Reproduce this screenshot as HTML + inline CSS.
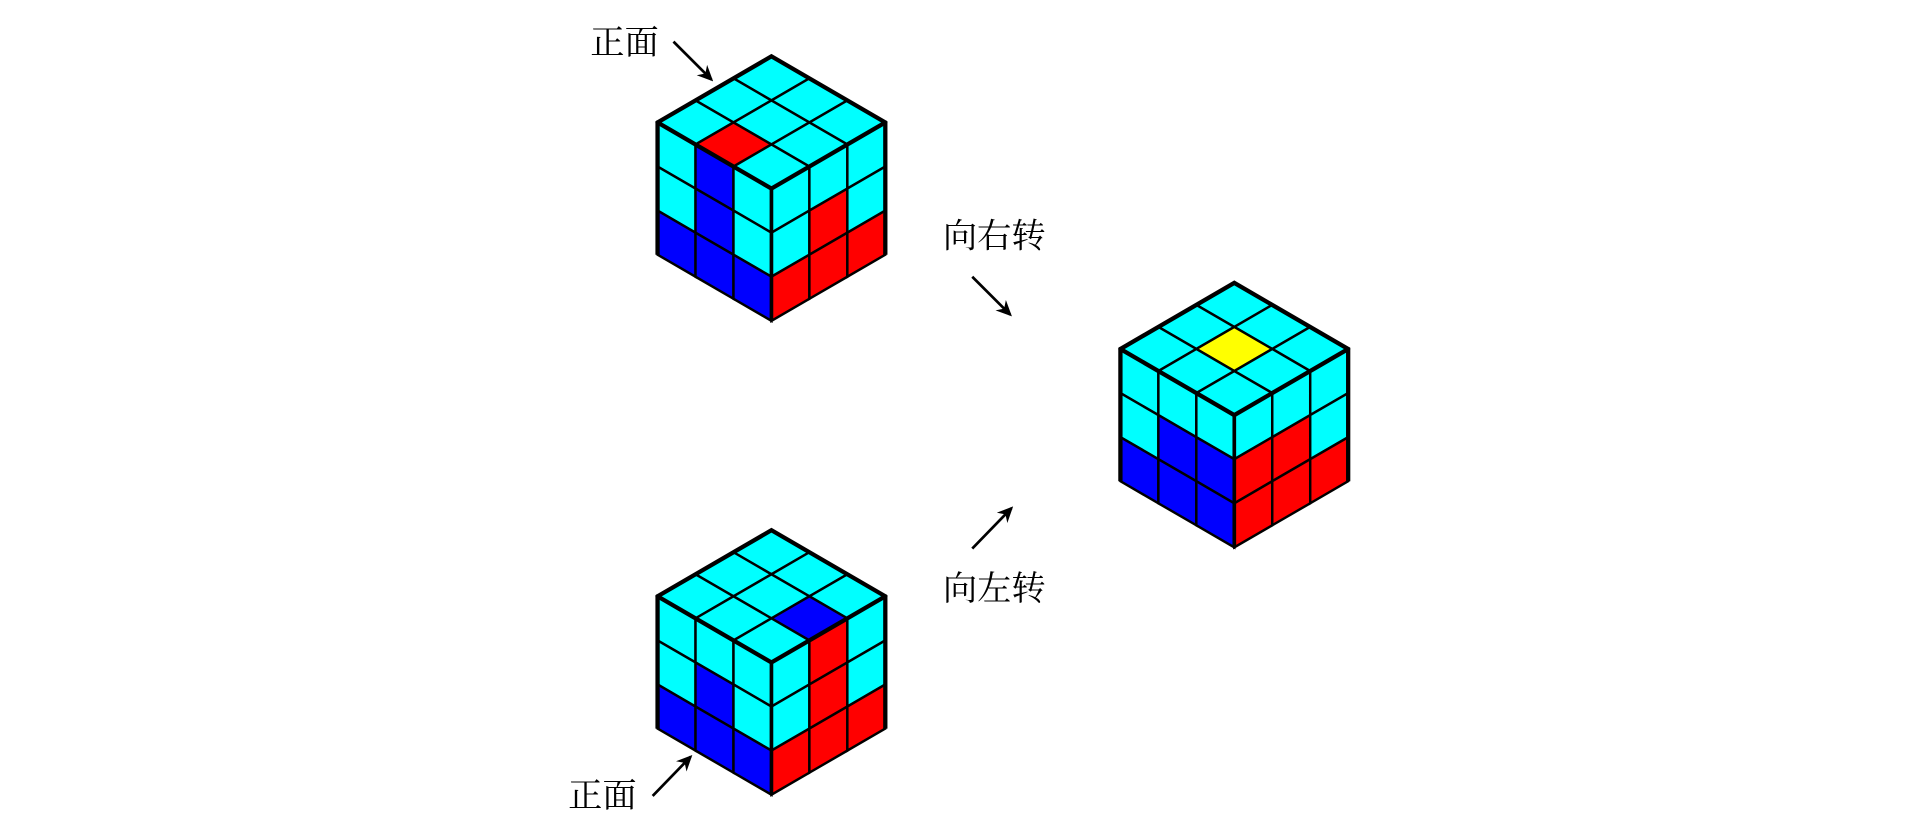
<!DOCTYPE html>
<html><head><meta charset="utf-8"><style>
html,body{margin:0;padding:0;background:#fff;width:1920px;height:833px;overflow:hidden}
svg{display:block}
text{font-family:"Liberation Serif","Noto Serif CJK SC",serif;font-size:28px;fill:#000}
</style></head><body>
<svg id="s" width="1920" height="833" xmlns="http://www.w3.org/2000/svg">
<defs><marker id="ah" markerWidth="13" markerHeight="12" refX="11" refY="6" orient="auto" markerUnits="userSpaceOnUse"><path d="M0,0 L13,6 L0,12 L4,6 Z" fill="#000"/></marker></defs>
<g transform="scale(1.2245)">
<text x="482" y="44">正面</text>
<line x1="550" y1="34" x2="581" y2="65" stroke="#000" stroke-width="2.2" marker-end="url(#ah)"/>
<text x="770" y="202">向右转</text>
<line x1="794" y1="226" x2="825" y2="257" stroke="#000" stroke-width="2.2" marker-end="url(#ah)"/>
<text x="770" y="490">向左转</text>
<line x1="794" y1="448" x2="826" y2="415" stroke="#000" stroke-width="2.2" marker-end="url(#ah)"/>
<text x="464" y="659">正面</text>
<line x1="533" y1="650" x2="564" y2="618" stroke="#000" stroke-width="2.2" marker-end="url(#ah)"/>
<g id="cubes"></g>
</g>
</svg>
<script>
var C='#00ffff',B='#0000ff',R='#ff0000',Y='#ffff00';
function cube(tx,ty,top,left,right){
 var dx=31,dy=18,h=36,out='';
 function P(a){return a.map(function(p){return p[0].toFixed(1)+','+p[1].toFixed(1)}).join(' ')}
 function tp(i,j){return [tx+i*dx-j*dx,ty+(i+j)*dy]}
 for(var i=0;i<3;i++)for(var j=0;j<3;j++){
  out+='<polygon points="'+P([tp(i,j),tp(i+1,j),tp(i+1,j+1),tp(i,j+1)])+'" fill="'+top[i][j]+'" stroke="#000" stroke-width="2"/>';
 }
 var L=[tx-3*dx,ty+3*dy];
 function lp(k,r){return [L[0]+k*dx,L[1]+k*dy+r*h]}
 for(var r=0;r<3;r++)for(var k=0;k<3;k++){
  out+='<polygon points="'+P([lp(k,r),lp(k+1,r),lp(k+1,r+1),lp(k,r+1)])+'" fill="'+left[r][k]+'" stroke="#000" stroke-width="2"/>';
 }
 var Cn=[tx,ty+6*dy];
 function rp(k,r){return [Cn[0]+k*dx,Cn[1]-k*dy+r*h]}
 for(var r=0;r<3;r++)for(var k=0;k<3;k++){
  out+='<polygon points="'+P([rp(k,r),rp(k+1,r),rp(k+1,r+1),rp(k,r+1)])+'" fill="'+right[r][k]+'" stroke="#000" stroke-width="2"/>';
 }
 var Rt=[tx+3*dx,ty+3*dy];
 out+='<polyline points="'+P([[L[0],L[1]+3*h],L,[tx,ty],Rt,[Rt[0],Rt[1]+3*h]])+'" fill="none" stroke="#000" stroke-width="3.5"/>';
 out+='<polyline points="'+P([L,Cn,Rt])+'" fill="none" stroke="#000" stroke-width="3.5"/>';
 out+='<line x1="'+Cn[0]+'" y1="'+Cn[1]+'" x2="'+Cn[0]+'" y2="'+(Cn[1]+3*h)+'" stroke="#000" stroke-width="3"/>';
 return out;
}
var g='';
g+=cube(630,46,
 [[C,C,C],[C,C,R],[C,C,C]],
 [[C,B,C],[C,B,C],[B,B,B]],
 [[C,C,C],[C,R,C],[R,R,R]]);
g+=cube(630,433,
 [[C,C,C],[C,C,C],[C,B,C]],
 [[C,C,C],[C,B,C],[B,B,B]],
 [[C,R,C],[C,R,C],[R,R,R]]);
g+=cube(1008,231,
 [[C,C,C],[C,Y,C],[C,C,C]],
 [[C,C,C],[C,B,B],[B,B,B]],
 [[C,C,C],[R,R,C],[R,R,R]]);
document.getElementById('cubes').innerHTML=g;
</script>
</body></html>
